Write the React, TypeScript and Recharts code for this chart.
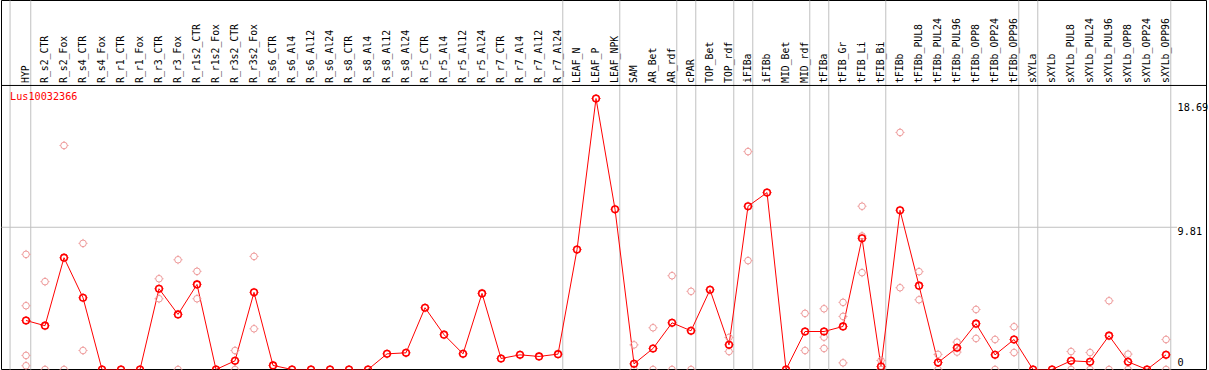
import React from "react";
import {
  ComposedChart,
  Line,
  XAxis,
  YAxis,
  ReferenceLine,
  ReferenceArea,
} from "recharts";

const CATEGORIES = [
  "HYP", "R_s2_CTR", "R_s2_Fox", "R_s4_CTR", "R_s4_Fox", "R_r1_CTR", "R_r1_Fox",
  "R_r3_CTR", "R_r3_Fox", "R_r1s2_CTR", "R_r1s2_Fox", "R_r3s2_CTR", "R_r3s2_Fox",
  "R_s6_CTR", "R_s6_Al4", "R_s6_Al12", "R_s6_Al24", "R_s8_CTR", "R_s8_Al4",
  "R_s8_Al12", "R_s8_Al24", "R_r5_CTR", "R_r5_Al4", "R_r5_Al12", "R_r5_Al24",
  "R_r7_CTR", "R_r7_Al4", "R_r7_Al12", "R_r7_Al24", "LEAF_N", "LEAF_P", "LEAF_NPK",
  "SAM", "AR_Bet", "AR_rdf", "cPAR", "TOP_Bet", "TOP_rdf", "iFIBa", "iFIBb",
  "MID_Bet", "MID_rdf", "tFIBa", "tFIB_Gr", "tFIB_Li", "tFIB_Bi", "tFIBb",
  "tFIBb_PUL8", "tFIBb_PUL24", "tFIBb_PUL96", "tFIBb_OPP8", "tFIBb_OPP24",
  "tFIBb_OPP96", "sXYLa", "sXYLb", "sXYLb_PUL8", "sXYLb_PUL24", "sXYLb_PUL96",
  "sXYLb_OPP8", "sXYLb_OPP24", "sXYLb_OPP96",
];

const MEAN_VALUES = [
  3.38, 3.02, 7.71, 4.95, 0, 0, 0,
  5.57, 3.8, 5.87, 0, 0.6, 5.32,
  0.28, 0, 0, 0, 0, 0,
  1.08, 1.15, 4.26, 2.4, 1.08, 5.25,
  0.76, 1.01, 0.9, 1.06, 8.27, 18.69, 11.05,
  0.39, 1.45, 3.22, 2.67, 5.5, 1.7, 11.26, 12.2,
  0, 2.62, 2.62, 2.97, 9.05, 0.2, 10.98,
  5.78, 0.48, 1.5, 3.16, 1.01,
  2.07, 0, 0, 0.6, 0.53, 2.33,
  0.53, 0, 1.01,
];

const REPLICATES: number[][] = [
  [7.94, 4.4, 0.97, 0.26], [6.06, 0], [15.45, 0], [8.7, 1.31], [], [], [],
  [6.26, 4.88], [7.57, 0], [6.77, 4.88], [], [1.31, 0], [7.8, 2.81],
  [], [], [], [], [], [],
  [], [], [], [], [], [],
  [], [], [], [], [], [], [],
  [1.7, 0], [2.88, 0], [6.47, 0], [5.39, 0], [], [2.21, 1.24], [15.03, 7.51], [],
  [], [3.87, 1.31], [4.19, 2.23, 1.45], [4.63, 3.66, 0.46], [11.26, 9.21, 6.68], [0.62, 0], [16.35, 5.64],
  [6.75, 4.81], [1.04, 0], [1.89, 1.2], [4.14, 2.14], [2.07, 0],
  [2.95, 1.17], [], [], [1.24, 0], [1.17, 0], [4.74, 0],
  [1.06, 0], [], [2.07, 0],
];

const Y_TICKS = [0, 9.81, 18.69];
const GENE_ID = "Lus10032366";
// group separator positions (in category-index units)
const GROUP_LINES = [-0.84, 0.25, 28.25, 31.25, 34.25, 35.25, 37.25, 38.25, 41.25, 42.25, 45.25, 52.25, 53.25, 60.25];

const X_DOMAIN: [number, number] = [-1.29, 62.13];
const Y_DOMAIN: [number, number] = [0, 25.45];
const HEADER_LINE_Y = 19.59;
const GRID_END_X = 60.58;

const RED = "#ff0000";
const PINK = "#ee9a9a";
const GRAY = "#c0c0c0";
const FONT = "'DejaVu Sans Mono', monospace";

const data = CATEGORIES.map((name, i) => {
  const row: any = { idx: i, name, mean: MEAN_VALUES[i] };
  for (let k = 0; k < 4; k++) {
    const reps = REPLICATES[i];
    row["r" + k] = k < reps.length ? reps[k] : null;
  }
  return row;
});

const makeMarker = (color: string, sw: number) => (props: any) => {
  const { cx, cy, value, index } = props;
  if (value === null || value === undefined || cx == null || cy == null || isNaN(cy)) {
    return <g key={"m" + index} />;
  }
  const r = 3.3;
  const s = 4.5;
  return (
    <g key={"m" + index}>
      <circle cx={cx} cy={cy} r={r} fill="none" stroke={color} strokeWidth={sw} />
      <line x1={cx} y1={cy - r} x2={cx} y2={cy - s} stroke={color} strokeWidth={1} />
      <line x1={cx} y1={cy + r} x2={cx} y2={cy + s} stroke={color} strokeWidth={1} />
      <line x1={cx - r} y1={cy} x2={cx - s} y2={cy} stroke={color} strokeWidth={1} />
      <line x1={cx + r} y1={cy} x2={cx + s} y2={cy} stroke={color} strokeWidth={1} />
    </g>
  );
};

const CategoryLabel = (props: any) => {
  const { viewBox, text } = props;
  if (!viewBox) return null;
  const tx = Math.round(viewBox.x) + 3;
  const ty = 83;
  return (
    <text
      x={tx}
      y={ty}
      transform={`rotate(-90, ${tx}, ${ty})`}
      textAnchor="start"
      fontFamily={FONT}
      fontSize={9.8}
      fill="#000"
    >
      {text}
    </text>
  );
};

const ValueLabel = (props: any) => {
  const { viewBox, text, v } = props;
  if (!viewBox) return null;
  const dy = v === 0 ? -4 : v > 15 ? 12 : 8;
  return (
    <text x={1177.5} y={viewBox.y + dy} textAnchor="start" fontFamily={FONT} fontSize={10.2} fill="#000">
      {text}
    </text>
  );
};

export default function App() {
  return (
    <div style={{ position: "absolute", left: 0, top: 0, width: 1209, height: 370, background: "#fff" }}>
      <ComposedChart
        width={1209}
        height={370}
        data={data}
        margin={{ top: 0.5, right: 2.5, bottom: 0.5, left: 1.5 }}
      >
        <XAxis dataKey="idx" type="number" domain={X_DOMAIN} allowDataOverflow hide />
        <YAxis type="number" domain={Y_DOMAIN} allowDataOverflow hide />
        {GROUP_LINES.map((gx) => (
          <ReferenceLine key={"g" + gx} x={gx} stroke={GRAY} strokeWidth={1} ifOverflow="visible" />
        ))}
        <ReferenceLine
          segment={[{ x: X_DOMAIN[0], y: 9.81 }, { x: GRID_END_X, y: 9.81 }]}
          stroke={GRAY}
          strokeWidth={1}
          ifOverflow="visible"
        />
        <ReferenceLine y={HEADER_LINE_Y} stroke="#000" strokeWidth={1} ifOverflow="visible" />
        <ReferenceArea
          x1={X_DOMAIN[0]}
          x2={X_DOMAIN[1]}
          y1={Y_DOMAIN[0]}
          y2={Y_DOMAIN[1]}
          fill="none"
          fillOpacity={0}
          stroke="#000"
          strokeWidth={1}
          ifOverflow="visible"
        />
        {CATEGORIES.map((name, i) => (
          <ReferenceLine
            key={"c" + i}
            x={i}
            stroke="none"
            ifOverflow="visible"
            label={<CategoryLabel text={name} />}
          />
        ))}
        {Y_TICKS.map((v) => (
          <ReferenceLine
            key={"t" + v}
            y={v}
            stroke="none"
            ifOverflow="visible"
            label={<ValueLabel text={String(v)} v={v} />}
          />
        ))}
        {[0, 1, 2, 3].map((k) => (
          <Line
            key={"rep" + k}
            dataKey={"r" + k}
            stroke="none"
            fill="none"
            dot={makeMarker(PINK, 1)}
            activeDot={false}
            isAnimationActive={false}
            connectNulls={false}
            legendType="none"
          />
        ))}
        <Line
          dataKey="mean"
          stroke={RED}
          strokeWidth={1}
          dot={makeMarker(RED, 1.6)}
          activeDot={false}
          isAnimationActive={false}
        />
      </ComposedChart>
      <div
        style={{
          position: "absolute",
          left: 10,
          top: 91,
          fontFamily: FONT,
          fontSize: 10.2,
          color: RED,
          lineHeight: "12px",
        }}
      >
        {GENE_ID}
      </div>
    </div>
  );
}
